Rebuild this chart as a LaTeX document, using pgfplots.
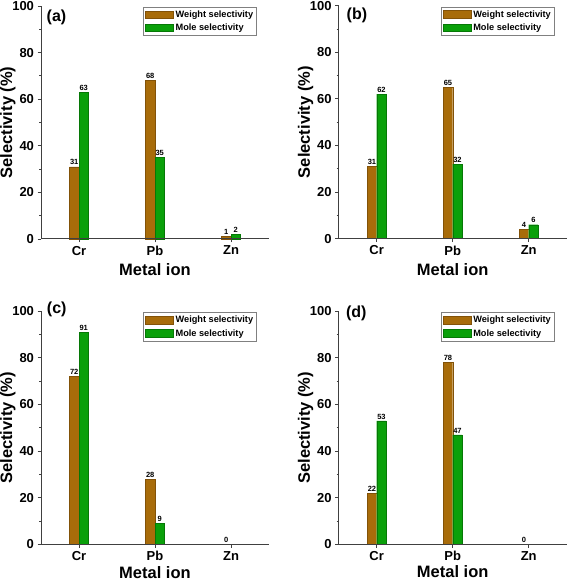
\documentclass[border=0pt]{standalone}
\usepackage{pgfplots}
\pgfplotsset{compat=1.18}
\usepackage{fontspec}
\setmainfont{Liberation Sans}
\definecolor{wbar}{RGB}{168,108,10}
\definecolor{wedge}{RGB}{130,82,8}
\definecolor{mbar}{RGB}{10,160,10}
\definecolor{medge}{RGB}{6,120,6}
\pgfplotsset{
  panel/.style={
    scale only axis, width=228pt, height=233pt,
    xmin=-0.5, xmax=2.5, ymin=0, ymax=100, clip=false, axis on top,
    axis lines*=left,
    axis line style={line width=1pt, black!75},
    xtick={0,1,2}, xticklabels={Cr,Pb,Zn},
    ytick={0,20,...,100}, minor y tick num=1,
    tick align=outside, major tick length=3.5pt, minor tick length=2pt,
    tick style={line width=0.8pt, black!75},
    ybar=0pt, bar width=9.5pt,
    ticklabel style={font=\bfseries\fontsize{13}{13}\selectfont},
    /pgf/number format/assume math mode=true,
    xlabel={Metal ion}, ylabel={Selectivity (\%)},
    label style={font=\bfseries\fontsize{16.5}{16.5}\selectfont},
    ylabel style={at={(axis description cs:-0.145,0.5)}, anchor=center},
    nodes near coords, point meta=explicit symbolic,
    every node near coord/.append style={font=\bfseries\fontsize{7.5}{7.5}\selectfont, inner sep=1.5pt},
    legend style={at={(0.947,0.995)}, anchor=north east, draw=black!50, line width=0.5pt,
      font=\bfseries\fontsize{9.2}{9.2}\selectfont, inner sep=1.5pt, row sep=1pt,
      legend cell align=left},
    legend image code/.code={\draw[##1, line width=0.4pt] (0pt,-3.5pt) rectangle (28pt,4pt);},
  },
  wstyle/.style={fill=wbar, draw=wedge, line width=0.4pt},
  mstyle/.style={fill=mbar, draw=medge, line width=0.4pt},
}
\begin{document}
\begin{tikzpicture}
\useasboundingbox (0,0) rectangle (567pt,581pt);
% (a)
\begin{axis}[panel, at={(41pt,342pt)}, anchor=south west,
  xlabel style={at={(axis description cs:0.5,-0.131)}, anchor=center}]
\addplot[wstyle] coordinates {(0,31) [31] (1,68) [68] (2,1) [1]};
\addplot[mstyle] coordinates {(0,63) [63] (1,35) [35] (2,2) [2]};
\legend{Weight selectivity, Mole selectivity}
\node[font=\bfseries\fontsize{16}{16}\selectfont] at (axis description cs:0.068,0.953) {(a)};
\end{axis}
% (b)
\begin{axis}[panel, at={(338.7pt,342.3pt)}, anchor=south west,
  xlabel style={at={(axis description cs:0.5,-0.134)}, anchor=center}]
\addplot[wstyle] coordinates {(0,31) [31] (1,65) [65] (2,4) [4]};
\addplot[mstyle] coordinates {(0,62) [62] (1,32) [32] (2,6) [6]};
\legend{Weight selectivity, Mole selectivity}
\node[font=\bfseries\fontsize{16}{16}\selectfont] at (axis description cs:0.080,0.957) {(b)};
\end{axis}
% (c)
\begin{axis}[panel, at={(41pt,36.7pt)}, anchor=south west,
  xlabel style={at={(axis description cs:0.5,-0.122)}, anchor=center}]
\addplot[wstyle] coordinates {(0,72) [72] (1,28) [28] (2,0) [0]};
\addplot[mstyle] coordinates {(0,91) [91] (1,9) [9] (2,0) [{}]};
\legend{Weight selectivity, Mole selectivity}
\node[font=\bfseries\fontsize{16}{16}\selectfont] at (axis description cs:0.069,1.009) {(c)};
\end{axis}
% (d)
\begin{axis}[panel, at={(338.7pt,36.7pt)}, anchor=south west,
  xlabel style={at={(axis description cs:0.5,-0.117)}, anchor=center}]
\addplot[wstyle] coordinates {(0,22) [22] (1,78) [78] (2,0) [0]};
\addplot[mstyle] coordinates {(0,53) [53] (1,47) [47] (2,0) [{}]};
\legend{Weight selectivity, Mole selectivity}
\node[font=\bfseries\fontsize{16}{16}\selectfont] at (axis description cs:0.077,0.991) {(d)};
\end{axis}
\end{tikzpicture}
\end{document}
